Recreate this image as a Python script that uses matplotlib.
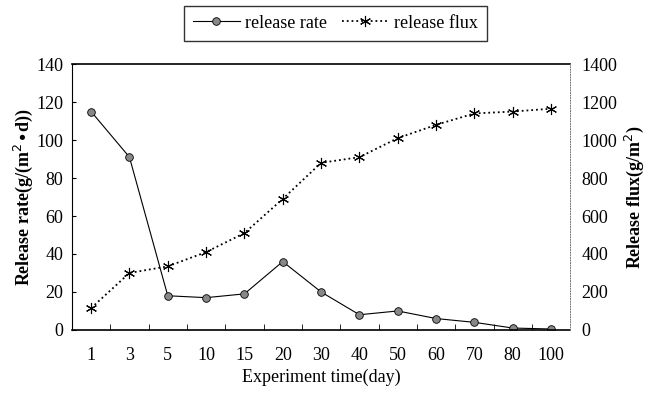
import matplotlib
matplotlib.use("Agg")
import matplotlib.pyplot as plt

plt.rcParams['font.family'] = ['Liberation Serif', 'DejaVu Serif']

days = ['1', '3', '5', '10', '15', '20', '30', '40', '50', '60', '70', '80', '100']
rate = [115, 91, 18, 17, 19, 36, 20, 8, 10, 6, 4, 1, 0.5]
flux = [115, 300, 335, 410, 510, 690, 880, 910, 1010, 1080, 1140, 1150, 1165]

fig = plt.figure(figsize=(6.6, 3.98), dpi=100)
ax = fig.add_axes([0.109, 0.171, 0.755, 0.668])
ax2 = ax.twinx()

x = list(range(len(days)))
l1, = ax.plot(x, rate, '-', color='black', lw=0.8, marker='o', ms=5.5,
              mfc='#888888', mec='black', mew=0.6, label='release rate')
l2, = ax2.plot(x, flux, ':', color='black', lw=1.3, marker=(6, 2, 0), ms=8,
               mec='black', mew=0.8, label='release flux')

ax.set_xlim(-0.5, len(days) - 0.5)
ax.set_ylim(0, 140)
ax2.set_ylim(0, 1400)
ax.set_yticks(range(0, 141, 20))
ax2.set_yticks(range(0, 1401, 200))
ax.set_xticks(x)
ax.set_xticklabels(days)
ax.set_xticks([i + 0.5 for i in x[:-1]], minor=True)
ax.tick_params(axis='x', which='major', length=0, pad=12, labelsize=13)
ax.tick_params(axis='x', which='minor', length=4, direction='in')
ax.tick_params(axis='y', length=3, direction='in', labelsize=13, pad=6)
ax2.tick_params(axis='y', length=0, labelsize=13, pad=8)

ax.spines['right'].set_visible(False)
ax2.spines['left'].set_visible(False)
ax2.spines['top'].set_visible(False)
ax2.spines['bottom'].set_visible(False)
ax2.spines['right'].set_linestyle(':')
ax2.spines['right'].set_linewidth(0.7)
ax2.spines['right'].set_color('#777777')
ax.spines['left'].set_linewidth(0.8)
ax.spines['top'].set_linewidth(1.2)
ax.spines['bottom'].set_linewidth(1.2)

ax.set_xlabel('Experiment time(day)', fontsize=13)
ax.set_ylabel(r'Release rate(g/(m$^2$$\bullet$d))', fontsize=13, fontweight='bold',
              labelpad=1)
ax2.set_ylabel(r'Release flux(g/m$^2$)', fontsize=13, fontweight='bold')

fig.legend([l1, l2], ['release rate', 'release flux'], loc='upper center',
           bbox_to_anchor=(0.508, 0.995), ncol=2, frameon=True, fancybox=False,
           edgecolor='black', fontsize=13, handlelength=2.6, handletextpad=0.3,
           columnspacing=0.8, borderpad=0.5, borderaxespad=0.2)

fig.savefig('out.png', dpi=100)
